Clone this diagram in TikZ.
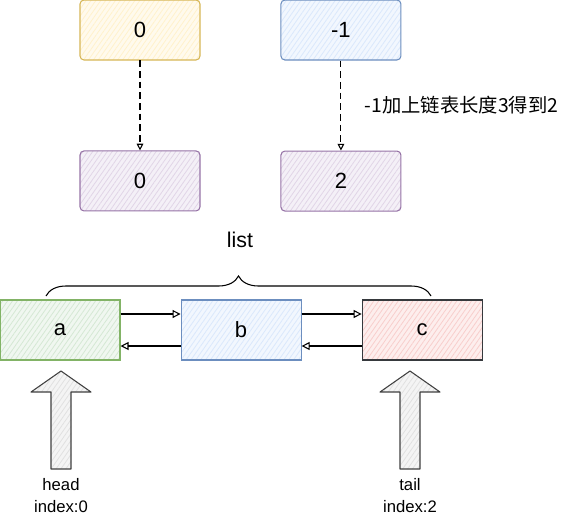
\documentclass[tikz,border=0pt]{standalone}
\usepackage{fontspec}
\setmainfont{Liberation Sans}
\newfontfamily\cjk{Noto Sans CJK SC}
\usetikzlibrary{positioning, arrows.meta, decorations.pathreplacing, patterns.meta}
\definecolor{yellowbd}{RGB}{214,182,86}
\definecolor{yellowbg}{RGB}{255,242,204}
\definecolor{bluebd}{RGB}{108,142,191}
\definecolor{bluebg}{RGB}{218,232,252}
\definecolor{purplebd}{RGB}{150,115,166}
\definecolor{purplebg}{RGB}{225,213,231}
\definecolor{greenbd}{RGB}{130,179,102}
\definecolor{greenbg}{RGB}{213,232,212}
\definecolor{redbd}{RGB}{54,57,61}
\definecolor{redbg}{RGB}{248,206,204}
\definecolor{pointerbg}{RGB}{225,225,225}

\begin{document}
\begin{tikzpicture}[
    x=0.75pt, y=-0.75pt,
    hatch/.style={
        preaction={fill=#1!35!white},
        pattern={Lines[angle=55, distance=3pt, line width=0.6pt]},
        pattern color=#1
    },
    valbox/.style={
        rectangle,
        rounded corners=3pt,
        line width=0.8pt,
        minimum width=90pt,
        minimum height=45pt,
        font=\fontsize{16.5}{19}\selectfont
    },
    elembox/.style={
        rectangle,
        line width=0.8pt,
        minimum width=90pt,
        minimum height=45pt,
        font=\fontsize{16.5}{19}\selectfont
    },
    convert/.style={
        dash pattern=on 5pt off 3pt,
        line width=0.8pt,
        -{Triangle[open, length=5pt, width=5pt]}
    },
    link/.style={
        line width=0.8pt,
        -{Triangle[open, length=6pt, width=6pt]}
    },
    pointer/.style={
        draw=black!75,
        hatch=pointerbg,
        line width=0.8pt,
        line join=round
    },
    tag/.style={
        align=center,
        font=\fontsize{12.5}{16.5}\selectfont
    }
]
\useasboundingbox (0,0) rectangle (566,521);

% index values before and after
\node[valbox, draw=yellowbd, hatch=yellowbg] (zero) at (140,30) {0};
\node[valbox, draw=bluebd, hatch=bluebg, right=60pt of zero] (negone) {-1};
\node[valbox, draw=purplebd, hatch=purplebg, below=67.5pt of zero] (zeroout) {0};
\node[valbox, draw=purplebd, hatch=purplebg, below=67.5pt of negone] (two) {2};

\draw[convert] (zero) -- (zeroout);
\draw[convert] (negone) -- node[right=14pt, font=\cjk\fontsize{14.5}{17}\selectfont] {-1加上链表长度3得到2} (two);

% the list
\node[elembox, draw=greenbd, hatch=greenbg] (a) at (60,330) {a};
\node[elembox, draw=bluebd, hatch=bluebg, right=45pt of a] (b) {b};
\node[elembox, draw=redbd, hatch=redbg, right=45pt of b] (c) {c};

\draw[link] ([yshift=12pt]a.east) -- ([yshift=12pt]b.west);
\draw[link] ([yshift=-12pt]b.west) -- ([yshift=-12pt]a.east);
\draw[link] ([yshift=12pt]b.east) -- ([yshift=12pt]c.west);
\draw[link] ([yshift=-12pt]c.west) -- ([yshift=-12pt]b.east);

% brace over the list
\coordinate (bracel) at (46,296);
\coordinate (bracer) at (431,296);
\draw[line width=0.8pt, decorate, decoration={brace, amplitude=15pt}] (bracel) -- (bracer);
\node[font=\fontsize{16}{19}\selectfont] (listlabel) at (240,240) {list};

% head and tail pointers
\foreach \x/\name/\txt in {61/head/head\\index:0, 410/tail/tail\\index:2} {
    \draw[pointer] (\x-10,469) -- (\x-10,392) -- (\x-30,392) -- (\x,371)
        -- (\x+30,392) -- (\x+10,392) -- (\x+10,469) -- cycle;
    \node[tag] (\name) at (\x,496) {\txt};
}

\end{tikzpicture}
\end{document}
